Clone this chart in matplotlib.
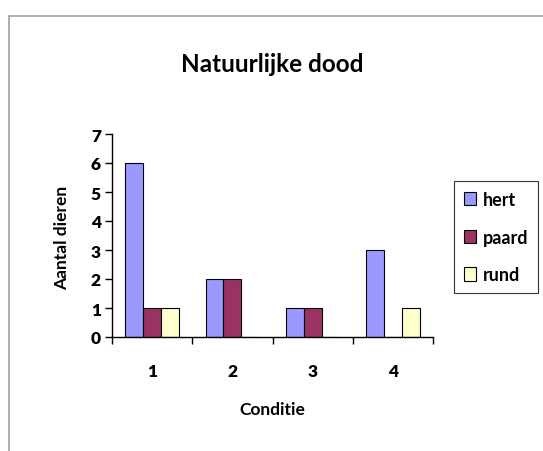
import numpy as np
import matplotlib.pyplot as plt
from matplotlib.patches import Rectangle

# Data
condities = ['1', '2', '3', '4']
hert = [6, 2, 1, 3]
paard = [1, 2, 1, 0]
rund = [1, 0, 0, 1]

series = [('hert', hert, '#9999FF'),
          ('paard', paard, '#993366'),
          ('rund', rund, '#FFFFCC')]

plt.rcParams['font.family'] = ['Lato', 'DejaVu Sans']
plt.rcParams['font.weight'] = 'bold'

fig = plt.figure(figsize=(5.43, 4.52), dpi=100)
ax = fig.add_axes([112 / 543, 1 - 338 / 452, (433 - 112) / 543, (338 - 135) / 452])

# grijze rand rond de grafiek
fig.patches.append(Rectangle((9 / 543, -0.1), 1.2, 1 - 17 / 452 + 0.1,
                             transform=fig.transFigure, fill=False,
                             edgecolor='#A8A8A8', linewidth=1.3))

x = np.arange(len(condities))
w = 1 / 4.5
for i, (naam, vals, kleur) in enumerate(series):
    ax.bar(x + (i - 1) * w, vals, width=w, color=kleur, edgecolor='black',
           linewidth=0.8, label=naam)

ax.set_xlim(-0.5, len(condities) - 0.5)
ax.set_ylim(0, 7)
ax.set_yticks(range(0, 8))
ax.set_xticks(x)
ax.set_xticklabels(condities)
ax.set_xticks(np.arange(-0.5, len(condities)), minor=True)
ax.tick_params(axis='x', which='major', length=0, pad=19, labelsize=12.5)
ax.tick_params(axis='x', which='minor', length=5, width=1)
ax.tick_params(axis='y', length=5, width=1, labelsize=12.5, pad=3)
for lbl in ax.get_xticklabels() + ax.get_yticklabels():
    lbl.set_fontweight('heavy')

for s in ['top', 'right']:
    ax.spines[s].set_visible(False)
ax.spines['left'].set_linewidth(1)
ax.spines['bottom'].set_linewidth(1)

fig.text(272 / 543, 1 - 65 / 452, 'Natuurlijke dood', fontsize=17.5,
         fontweight='bold', ha='center', va='center')
fig.text(272 / 543, 1 - 410 / 452, 'Conditie', fontsize=12.5,
         fontweight='bold', ha='center', va='center')
fig.text(62 / 543, 1 - 238 / 452, 'Aantal dieren', fontsize=12.5,
         fontweight='bold', ha='center', va='center', rotation=90)

leg = ax.legend(loc='center left', bbox_to_anchor=(454 / 543, 1 - 238 / 452),
                bbox_transform=fig.transFigure, frameon=True, fancybox=False,
                edgecolor='black', handlelength=0.65, handleheight=0.75,
                handletextpad=0.4, labelspacing=1.15, borderpad=0.55,
                prop={'size': 13, 'weight': 'bold'}, borderaxespad=0)
leg.get_frame().set_linewidth(0.8)

fig.savefig('out.png', dpi=100)
